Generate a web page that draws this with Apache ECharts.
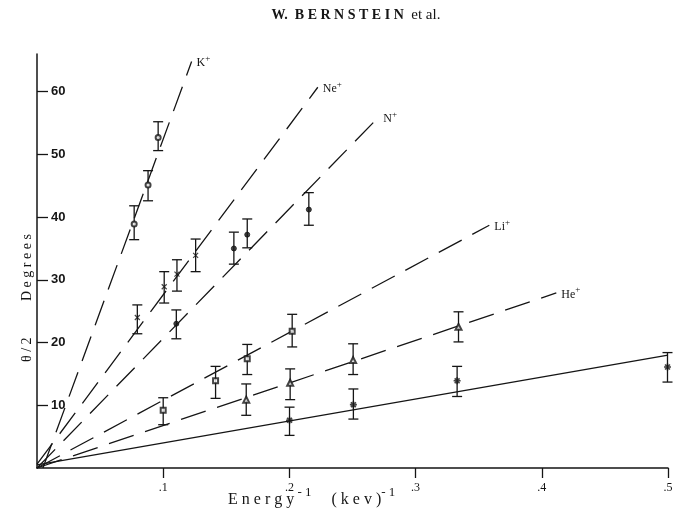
<!DOCTYPE html>
<html>
<head>
<meta charset="utf-8">
<script src="https://cdn.jsdelivr.net/npm/echarts@6/dist/echarts.min.js"></script>
<style>
  html, body { margin: 0; padding: 0; background: #ffffff; }
  #chart { width: 694px; height: 519px; }
</style>
</head>
<body>
<div id="chart"></div>
<script>
// Half-angle of deflection (degrees) versus reciprocal beam energy (keV^-1)

// Axis ticks
const xTickValues = [0.1, 0.2, 0.3, 0.4, 0.5];
const xTickLabels = ['.1', '.2', '.3', '.4', '.5'];
const yTickValues = [10, 20, 30, 40, 50, 60];
const yTickLabels = ['10', '20', '30', '40', '50', '60'];

// K+
const kX  = [0.077, 0.088, 0.096];
const kY  = [38.9, 45.1, 52.7];
const kLo = [36.4, 42.6, 50.6];
const kHi = [41.8, 47.4, 55.2];
const kFit = [[0.0047, 0], [0.1225, 64.8]];

// Ne+
const neX  = [0.0795, 0.1008, 0.1109, 0.1257];
const neY  = [24.0, 28.9, 30.9, 33.9];
const neLo = [21.4, 26.3, 28.2, 31.3];
const neHi = [26.0, 31.3, 33.2, 36.5];
const neFit = [[0, 0.6], [0.2225, 60.7]];

// N+
const nX  = [0.1104, 0.156, 0.1666, 0.2154];
const nY  = [23.0, 35.0, 37.2, 41.2];
const nLo = [20.6, 32.5, 35.1, 38.7];
const nHi = [25.2, 37.6, 39.7, 43.9];
const nFit = [[0, 0], [0.2705, 55.9]];

// Li+
const liX  = [0.1, 0.1415, 0.1666, 0.2022];
const liY  = [9.2, 13.9, 17.4, 21.8];
const liLo = [6.9, 11.1, 14.9, 19.3];
const liHi = [11.2, 16.2, 19.7, 24.5];
const liFit = [[0, 0], [0.3584, 38.7]];

// He+
const heX  = [0.1658, 0.2006, 0.2505, 0.334];
const heY  = [10.9, 13.6, 17.2, 22.5];
const heLo = [8.4, 10.9, 14.9, 20.1];
const heHi = [13.4, 15.8, 19.8, 24.9];
const heFit = [[0, 0], [0.4115, 27.9]];

// Unlabelled set on the solid line
const sX  = [0.2001, 0.2507, 0.3329, 0.4996];
const sY  = [7.6, 10.1, 13.9, 16.1];
const sLo = [5.2, 7.8, 11.4, 13.7];
const sHi = [9.7, 12.6, 16.2, 18.4];
const sFit = [[0, 0.5], [0.5, 18.0]];

const INK = '#151515';
const SERIF = '"Liberation Serif", "DejaVu Serif", serif';
const SANS = '"Liberation Sans", Arial, sans-serif';

const zip2 = (a, b) => a.map((v, i) => [v, b[i]]);
const zip3 = (a, b, c) => a.map((v, i) => [v, b[i], c[i]]);

function renderErr(params, api) {
  const x = api.value(0);
  const pLo = api.coord([x, api.value(1)]);
  const pHi = api.coord([x, api.value(2)]);
  const w = 5;
  const st = { stroke: INK, lineWidth: 1.3 };
  return {
    type: 'group',
    children: [
      { type: 'line', shape: { x1: pLo[0], y1: pLo[1], x2: pHi[0], y2: pHi[1] }, style: st },
      { type: 'line', shape: { x1: pLo[0] - w, y1: pLo[1], x2: pLo[0] + w, y2: pLo[1] }, style: st },
      { type: 'line', shape: { x1: pHi[0] - w, y1: pHi[1], x2: pHi[0] + w, y2: pHi[1] }, style: st }
    ]
  };
}

function fitLine(points, name, dashed) {
  const s = {
    type: 'line',
    data: points,
    showSymbol: false,
    symbol: 'none',
    silent: true,
    lineStyle: { color: INK, width: 1.3, type: dashed ? [26, 12] : 'solid' },
    z: 2
  };
  if (name) {
    s.endLabel = {
      show: true,
      distance: 5,
      formatter: '{b|' + name + '}{s|+}',
      rich: {
        b: { fontFamily: SERIF, fontSize: 12, color: INK, lineHeight: 15, verticalAlign: 'bottom' },
        s: { fontFamily: SERIF, fontSize: 9, color: INK, lineHeight: 15, verticalAlign: 'top' }
      }
    };
  }
  return s;
}

function points(xs, ys, symbol, size, style) {
  return {
    type: 'scatter',
    data: zip2(xs, ys),
    symbol: symbol,
    symbolSize: size,
    silent: true,
    itemStyle: style,
    z: 4
  };
}

function bars(xs, lo, hi) {
  return {
    type: 'custom',
    data: zip3(xs, lo, hi),
    renderItem: renderErr,
    silent: true,
    encode: { x: 0, y: [1, 2] },
    z: 3
  };
}

const openMark = { color: INK, borderColor: INK, borderWidth: 1.1 };
const solidMark = { color: INK, borderColor: INK, borderWidth: 1 };
const strokeMark = (w) => ({ color: 'none', borderColor: INK, borderWidth: w });

const crossPath = 'path://M0,0L10,10M10,0L0,10';
const starPath = 'path://M5,0L5,10M0,5L10,5M1.5,1.5L8.5,8.5M8.5,1.5L1.5,8.5';

const option = {
  animation: false,
  backgroundColor: '#ffffff',
  grid: { left: 37, right: 26, top: 54, bottom: 51, containLabel: false },
  xAxis: {
    type: 'value',
    min: 0,
    max: 0.5,
    splitLine: { show: false },
    axisLine: { show: true, onZero: false, lineStyle: { color: INK, width: 1.5 } },
    axisTick: { show: true, inside: false, length: 10, customValues: xTickValues, lineStyle: { color: INK, width: 1.3 } },
    axisLabel: {
      show: true,
      margin: 14,
      customValues: xTickValues,
      fontFamily: SERIF,
      fontSize: 12,
      color: INK,
      formatter: (v) => {
        const i = xTickValues.findIndex((t) => Math.abs(t - v) < 1e-9);
        return i >= 0 ? xTickLabels[i] : '';
      }
    }
  },
  yAxis: {
    type: 'value',
    min: 0,
    max: 66,
    splitLine: { show: false },
    axisLine: { show: true, onZero: false, lineStyle: { color: INK, width: 1.5 } },
    axisTick: { show: true, inside: true, length: 11, customValues: yTickValues, lineStyle: { color: INK, width: 1.3 } },
    axisLabel: {
      show: true,
      inside: true,
      margin: 14,
      customValues: yTickValues,
      fontFamily: SANS,
      fontSize: 13,
      fontWeight: 'bold',
      color: INK,
      formatter: (v) => {
        const i = yTickValues.indexOf(v);
        return i >= 0 ? yTickLabels[i] : '';
      }
    }
  },
  graphic: [
    {
      type: 'text',
      x: 356,
      y: 15,
      style: {
        text: '{a|W.  B E R N S T E I N}{b|  et al.}',
        align: 'center',
        verticalAlign: 'middle',
        rich: {
          a: { fontFamily: SERIF, fontSize: 14, fontWeight: 'bold', fill: INK },
          b: { fontFamily: SERIF, fontSize: 15, fill: INK }
        }
      }
    },
    {
      type: 'text',
      x: 228,
      y: 486,
      style: {
        text: '{a|E n e r g y}{s| - 1}{a|     ( k e v )}{s|- 1}',
        rich: {
          a: { fontFamily: SERIF, fontSize: 16, fill: INK, lineHeight: 22, verticalAlign: 'bottom' },
          s: { fontFamily: SERIF, fontSize: 13, fill: INK, lineHeight: 22, verticalAlign: 'top' }
        }
      }
    },
    {
      type: 'text',
      x: 20,
      y: 362,
      rotation: Math.PI / 2,
      style: {
        text: 'θ / 2',
        fontFamily: SERIF,
        fontSize: 14,
        fill: INK
      }
    },
    {
      type: 'text',
      x: 20,
      y: 301,
      rotation: Math.PI / 2,
      style: {
        text: 'D e g r e e s',
        fontFamily: SERIF,
        fontSize: 14,
        fill: INK
      }
    }
  ],
  series: [
    fitLine(kFit, 'K', true),
    fitLine(neFit, 'Ne', true),
    fitLine(nFit, 'N', true),
    fitLine(liFit, 'Li', true),
    fitLine(heFit, 'He', true),
    fitLine(sFit, null, false),

    bars(kX, kLo, kHi),
    bars(neX, neLo, neHi),
    bars(nX, nLo, nHi),
    bars(liX, liLo, liHi),
    bars(heX, heLo, heHi),
    bars(sX, sLo, sHi),

    points(kX, kY, 'emptyCircle', 5, openMark),
    points(neX, neY, crossPath, 5, strokeMark(1.2)),
    points(nX, nY, 'circle', 5, solidMark),
    points(liX, liY, 'emptyRect', 5, openMark),
    points(heX, heY, 'emptyTriangle', 6, openMark),
    points(sX, sY, starPath, 7, strokeMark(1.6))
  ]
};

const chart = echarts.init(document.getElementById('chart'), null, { renderer: 'canvas' });
chart.setOption(option);
</script>
</body>
</html>
